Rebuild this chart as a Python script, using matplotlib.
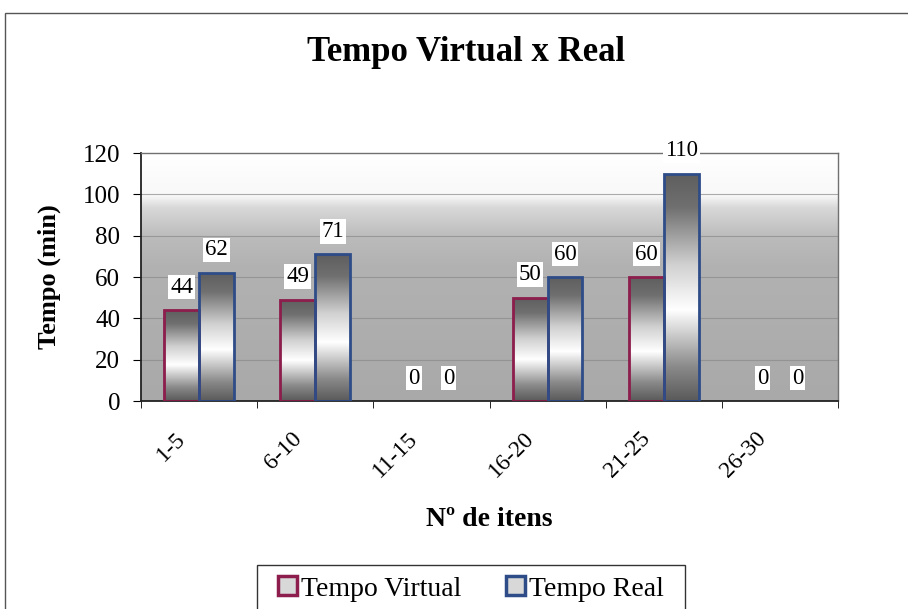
import numpy as np
import matplotlib
matplotlib.use("Agg")
import matplotlib.pyplot as plt
import matplotlib.transforms as mtransforms
from matplotlib.patches import Patch, Rectangle
from matplotlib.colors import LinearSegmentedColormap

# data
categories = ["1-5", "6-10", "11-15", "16-20", "21-25", "26-30"]
tempo_virtual = [44, 49, 0, 50, 60, 0]
tempo_real = [62, 71, 0, 60, 110, 0]
y_ticks = [0, 20, 40, 60, 80, 100, 120]

plt.rcParams["font.family"] = ["Liberation Serif", "DejaVu Serif"]

c_virtual = "#8c1d4c"
c_real = "#2d4c88"

fig = plt.figure(figsize=(9.08, 6.09), dpi=100)
ax = fig.add_axes([0.1553, 0.3415, 0.7676, 0.4072])

# outer chart border
fig.patches.append(Rectangle((0.006, -0.05), 1.2, 1.029, transform=fig.transFigure,
                             fill=False, edgecolor="#555555", linewidth=1.0))

x = np.arange(len(categories))
width = 0.3

ax.set_xlim(-0.5, len(categories) - 0.5)
ax.set_ylim(0, 120)

# plot area background: white at top, gray below
bg_cmap = LinearSegmentedColormap.from_list(
    "bg", [(0.0, "#a9a9a9"), (0.55, "#b2b2b2"), (0.66, "#bbbbbb"),
           (0.78, "#d8d8d8"), (0.83, "#f8f8f8"), (1.0, "#ffffff")])
grad = np.linspace(0, 1, 256).reshape(-1, 1)
ax.imshow(grad, extent=(-0.5, len(categories) - 0.5, 0, 120), origin="lower",
          aspect="auto", cmap=bg_cmap, zorder=0)

for yv in y_ticks[1:-1]:
    ax.axhline(yv, color="#8a8a8a", linewidth=0.8, zorder=1, alpha=0.7)

bar_cmap = LinearSegmentedColormap.from_list(
    "bar", [(0.0, "#5a5a5a"), (0.15, "#8a8a8a"), (0.4, "#ffffff"),
            (0.6, "#d0d0d0"), (0.85, "#707070"), (1.0, "#5e5e5e")])

bars_v = ax.bar(x - width / 2, tempo_virtual, width, facecolor="none",
                edgecolor=c_virtual, linewidth=2, zorder=3)
bars_r = ax.bar(x + width / 2, tempo_real, width, facecolor="none",
                edgecolor=c_real, linewidth=2, zorder=3)

for bar in list(bars_v) + list(bars_r):
    h = bar.get_height()
    if h <= 0:
        bar.set_linewidth(0)
        continue
    x0 = bar.get_x()
    im = ax.imshow(grad, extent=(x0, x0 + bar.get_width(), 0, h), origin="lower",
                   aspect="auto", cmap=bar_cmap, zorder=2)
    im.set_clip_path(bar)

for bars, vals in [(bars_v, tempo_virtual), (bars_r, tempo_real)]:
    for bar, v in zip(bars, vals):
        ax.annotate(str(v), (bar.get_x() + bar.get_width() / 2, v),
                    xytext=(0, 9), textcoords="offset points",
                    ha="center", va="bottom", fontsize=16.5, zorder=5,
                    bbox=dict(boxstyle="square,pad=0.08", facecolor="white",
                              edgecolor="none"))

ax.set_yticks(y_ticks)
ax.set_yticklabels([str(v) for v in y_ticks], fontsize=18)

# category labels: rotated, sitting a little left of each group centre
ax.set_xticks(x)
ax.set_xticklabels([])
ax.tick_params(axis="x", which="major", length=0)
shift = mtransforms.ScaledTranslation(-24 / 100, -27 / 100, fig.dpi_scale_trans)
for xi, cat in zip(x, categories):
    ax.text(xi, 0, cat, transform=ax.get_xaxis_transform() + shift,
            fontsize=17, rotation=45, ha="right", va="top",
            rotation_mode="anchor", clip_on=False)

ax.set_xticks(np.arange(-0.5, len(categories)), minor=True)
ax.tick_params(axis="x", which="minor", length=5, direction="out")
ax.tick_params(axis="y", length=6, direction="out", pad=9)

for side in ["left", "bottom"]:
    ax.spines[side].set_color("#222222")
    ax.spines[side].set_linewidth(1.3)
for side in ["top", "right"]:
    ax.spines[side].set_color("#707070")
    ax.spines[side].set_linewidth(1.0)

ax.set_ylabel("Tempo (min)", fontsize=19, fontweight="bold")
ax.yaxis.set_label_coords(-0.115, 0.5)
ax.set_xlabel("Nº de itens", fontsize=20, fontweight="bold")
ax.xaxis.set_label_coords(0.5, -0.427)

fig.text(0.513, 0.914, "Tempo Virtual x Real", ha="center", va="center",
         fontsize=25, fontweight="bold")

# legend frame (runs off the bottom edge like the original)
fig.patches.append(Rectangle((257 / 908, -0.05), 428 / 908, 0.05 + 44 / 609,
                             transform=fig.transFigure, fill=False,
                             edgecolor="#333333", linewidth=1.0))
handles = [Patch(facecolor="#d8d8d8", edgecolor=c_virtual, linewidth=2.5),
           Patch(facecolor="#d8d8d8", edgecolor=c_real, linewidth=2.5)]
leg = fig.legend(handles, ["Tempo Virtual", "Tempo Real"], loc="center",
                 bbox_to_anchor=(471 / 908, 1 - 589 / 609), ncol=2, fontsize=20,
                 frameon=False, handlelength=0.68, handleheight=0.68,
                 handletextpad=0.15, columnspacing=1.6, borderpad=0,
                 borderaxespad=0)

fig.savefig("out.png", dpi=100)
